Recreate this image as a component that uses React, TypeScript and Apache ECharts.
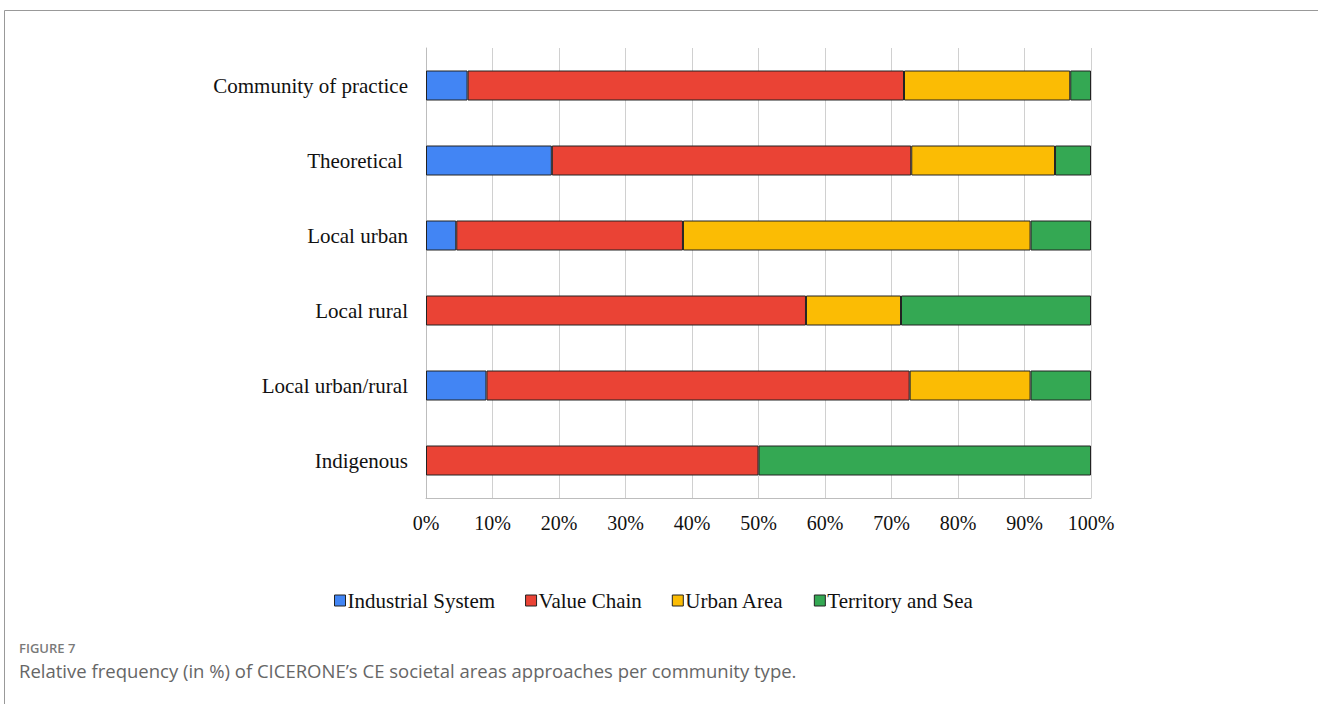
import React, { useEffect, useRef } from "react";
import * as echarts from "echarts";

const categories = [
  "Community of practice",
  "Theoretical ",
  "Local urban",
  "Local rural",
  "Local urban/rural",
  "Indigenous",
];
const industrialSystem = [6.25, 18.92, 4.55, 0, 9.09, 0];
const valueChain = [65.63, 54.05, 34.09, 57.14, 63.64, 50];
const urbanArea = [25.0, 21.62, 52.27, 14.29, 18.18, 0];
const territoryAndSea = [3.12, 5.41, 9.09, 28.57, 9.09, 50];
const xTicks = [0, 10, 20, 30, 40, 50, 60, 70, 80, 90, 100];

const seriesDefs = [
  { name: "Industrial System", data: industrialSystem, color: "#4285F4" },
  { name: "Value Chain", data: valueChain, color: "#EA4335" },
  { name: "Urban Area", data: urbanArea, color: "#FBBC04" },
  { name: "Territory and Sea", data: territoryAndSea, color: "#34A853" },
];

const SERIF = "'Liberation Serif', 'Times New Roman', serif";
const SANS = "'Open Sans', 'Noto Sans', sans-serif";

export default function App() {
  const ref = useRef<HTMLDivElement>(null);
  useEffect(() => {
    if (!ref.current) return;
    const chart = echarts.init(ref.current, null, { renderer: "svg" });
    chart.setOption({
      animation: false,
      backgroundColor: "#ffffff",
      grid: { left: 426, right: 227, top: 48, bottom: 206 },
      legend: {
        left: 329,
        top: 585,
        icon: "rect",
        itemWidth: 11,
        itemHeight: 11,
        itemGap: 30,
        textStyle: { fontFamily: SERIF, fontSize: 21, color: "#111", padding: [0, 0, 0, -3] },
        data: seriesDefs.map((s) => ({
          name: s.name,
          itemStyle: { color: s.color, borderColor: "#222", borderWidth: 1 },
        })),
      },
      xAxis: {
        type: "value",
        min: xTicks[0],
        max: xTicks[xTicks.length - 1],
        interval: 10,
        axisLine: { show: true, lineStyle: { color: "#bdbdbd", width: 1 } },
        axisTick: { show: false },
        splitLine: { show: true, lineStyle: { color: "#d0d0d0", width: 1 } },
        axisLabel: {
          formatter: "{value}%",
          margin: 15,
          fontFamily: SERIF,
          fontSize: 20,
          color: "#111",
        },
      },
      yAxis: {
        type: "category",
        inverse: true,
        data: categories,
        axisLine: { show: true, lineStyle: { color: "#bdbdbd", width: 1 } },
        axisTick: { show: false },
        axisLabel: { margin: 18, fontFamily: SERIF, fontSize: 21, color: "#111" },
      },
      series: seriesDefs.map((s) => ({
        name: s.name,
        type: "bar",
        stack: "total",
        barWidth: 30,
        data: s.data.map((v) => (v === 0 ? "-" : v)),
        itemStyle: { color: s.color, borderColor: "#222", borderWidth: 1 },
      })),
      graphic: [
        {
          type: "rect",
          shape: { x: 4.5, y: 10.5, width: 1400, height: 800 },
          style: { fill: "none", stroke: "#999", lineWidth: 1 },
          silent: true,
        },
        {
          type: "text",
          x: 19,
          y: 648,
          style: {
            text: "FIGURE 7",
            fontFamily: SANS,
            fontSize: 13,
            fontWeight: 600,
            fill: "#7a7a7a",
            verticalAlign: "middle",
          },
        },
        {
          type: "text",
          x: 19,
          y: 670,
          style: {
            text: "Relative frequency (in %) of CICERONE\u2019s CE societal areas approaches per community type.",
            fontFamily: SANS,
            fontSize: 18.5,
            fill: "#666",
            verticalAlign: "middle",
          },
        },
      ],
    });
    return () => chart.dispose();
  }, []);
  return (
    <div
      ref={ref}
      style={{ position: "fixed", left: 0, top: 0, width: 1318, height: 704 }}
    />
  );
}
